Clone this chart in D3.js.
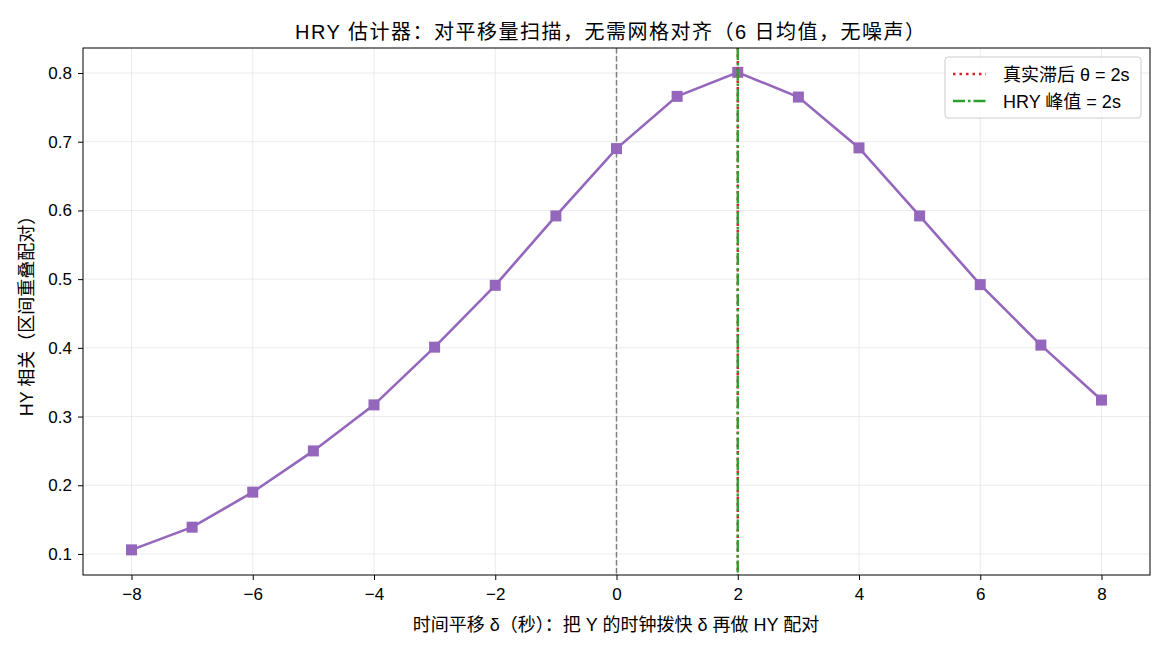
<!DOCTYPE html>
<html>
<head>
<meta charset="utf-8">
<script src="https://cdn.jsdelivr.net/npm/d3@7"></script>
<style>
  body { margin: 0; background: #fff; }
  svg { font-family: "Liberation Sans", "Noto Sans CJK SC", sans-serif; }
</style>
</head>
<body>
<svg id="chart" width="1170" height="650"></svg>
<script>
const shifts = [-8, -7, -6, -5, -4, -3, -2, -1, 0, 1, 2, 3, 4, 5, 6, 7, 8]
const hyCorr = [0.106, 0.139, 0.190, 0.250, 0.317, 0.401, 0.491, 0.592, 0.690, 0.766, 0.801, 0.765, 0.691, 0.592, 0.492, 0.404, 0.324]
const xTicks = [-8, -6, -4, -2, 0, 2, 4, 6, 8]
const yTicks = [0.1, 0.2, 0.3, 0.4, 0.5, 0.6, 0.7, 0.8]
const trueLag = 2
const hryPeak = 2

const svg = d3.select("#chart")
const margin = { top: 48, right: 20, bottom: 75, left: 83 }
const width = 1170 - margin.left - margin.right
const height = 650 - margin.top - margin.bottom
const g = svg.append("g").attr("transform", `translate(${margin.left},${margin.top})`)

const x = d3.scaleLinear().domain([-8.8, 8.8]).range([0, width])
const y = d3.scaleLinear().domain([0.0694, 0.8364]).range([height, 0])

// grid
g.selectAll(".gx").data(xTicks).enter().append("line")
  .attr("x1", (d) => x(d)).attr("x2", (d) => x(d)).attr("y1", 0).attr("y2", height)
  .attr("stroke", "#e6e6e6").attr("stroke-width", 0.8)
g.selectAll(".gy").data(yTicks).enter().append("line")
  .attr("x1", 0).attr("x2", width).attr("y1", (d) => y(d)).attr("y2", (d) => y(d))
  .attr("stroke", "#e6e6e6").attr("stroke-width", 0.8)

// zero line
g.append("line").attr("x1", x(0)).attr("x2", x(0)).attr("y1", 0).attr("y2", height)
  .attr("stroke", "#808080").attr("stroke-width", 1.5).attr("stroke-dasharray", "5.5,2.5")

// series
const line = d3.line().x((d, i) => x(shifts[i])).y((d) => y(d))
g.append("path").datum(hyCorr).attr("d", line)
  .attr("fill", "none").attr("stroke", "#9467bd").attr("stroke-width", 2.6)
g.selectAll(".pt").data(hyCorr).enter().append("rect")
  .attr("x", (d, i) => x(shifts[i]) - 5.5).attr("y", (d) => y(d) - 5.5)
  .attr("width", 11).attr("height", 11).attr("fill", "#9467bd")

// vertical reference lines
g.append("line").attr("x1", x(trueLag)).attr("x2", x(trueLag)).attr("y1", 0).attr("y2", height)
  .attr("stroke", "#d62728").attr("stroke-width", 2.5).attr("stroke-dasharray", "2.5,4")
g.append("line").attr("x1", x(hryPeak)).attr("x2", x(hryPeak)).attr("y1", 0).attr("y2", height)
  .attr("stroke", "#2ca02c").attr("stroke-width", 2.4).attr("stroke-dasharray", "12,3,2.5,3")

// axes
const xAxis = d3.axisBottom(x).tickValues(xTicks).tickSize(5).tickPadding(8)
  .tickFormat((d) => (d < 0 ? "\u2212" + Math.abs(d) : d))
const yAxis = d3.axisLeft(y).tickValues(yTicks).tickSize(5).tickPadding(6).tickFormat(d3.format(".1f"))
const gx = g.append("g").attr("transform", `translate(0,${height})`).call(xAxis)
const gy = g.append("g").call(yAxis)
gx.select(".domain").remove()
gy.select(".domain").remove()
for (const ax of [gx, gy]) {
  ax.selectAll("text").attr("font-size", 17).attr("fill", "#000")
    .attr("font-family", "Liberation Sans, sans-serif")
  ax.selectAll("line").attr("stroke", "#000")
}

g.append("rect").attr("width", width).attr("height", height)
  .attr("fill", "none").attr("stroke", "#000").attr("stroke-width", 1)

// labels
svg.append("text").attr("x", 610).attr("y", 39)
  .attr("text-anchor", "middle").attr("font-size", 20)
  .attr("textLength", 630).attr("lengthAdjust", "spacing")
  .text("HRY 估计器：对平移量扫描，无需网格对齐（6 日均值，无噪声）")
svg.append("text").attr("x", 616).attr("y", 631)
  .attr("text-anchor", "middle").attr("font-size", 18)
  .text("时间平移 δ（秒）：把 Y 的时钟拨快 δ 再做 HY 配对")
svg.append("text").attr("transform", `translate(33,${margin.top + height / 2}) rotate(-90)`)
  .attr("text-anchor", "middle").attr("font-size", 18)
  .text("HY 相关（区间重叠配对）")

// legend
const lg = svg.append("g").attr("transform", "translate(945,57)")
lg.append("rect").attr("width", 196).attr("height", 61).attr("rx", 3)
  .attr("fill", "#fff").attr("fill-opacity", 0.8).attr("stroke", "#ccc")
const legendItems = [
  { label: "真实滞后 θ = 2s", color: "#d62728", dash: "2.5,4", w: 2.5 },
  { label: "HRY 峰值 = 2s", color: "#2ca02c", dash: "12,3,2.5,3", w: 2.4 }
]
legendItems.forEach((d, i) => {
  const yy = 17 + i * 27
  lg.append("line").attr("x1", 8).attr("x2", 41).attr("y1", yy).attr("y2", yy)
    .attr("stroke", d.color).attr("stroke-width", d.w).attr("stroke-dasharray", d.dash)
  lg.append("text").attr("x", 58).attr("y", yy + 7).attr("font-size", 18).text(d.label)
})
</script>
</body>
</html>
